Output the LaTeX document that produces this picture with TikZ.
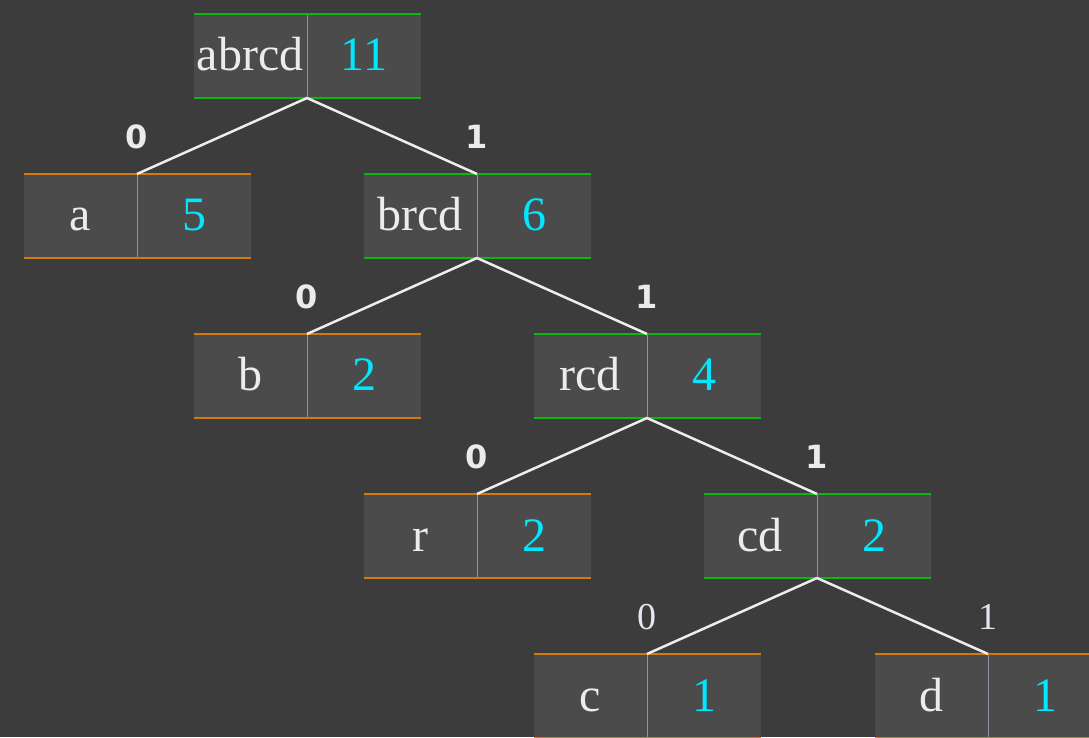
\documentclass[tikz,border=0pt]{standalone}
\usepackage{fontspec}
\setmainfont{Liberation Serif}
\newfontfamily\bitfont{DejaVu Sans}
\usetikzlibrary{calc}

\definecolor{bgcol}{HTML}{3C3C3C}
\definecolor{boxfill}{HTML}{4B4B4B}
\definecolor{innerline}{HTML}{12B412}
\definecolor{leafline}{HTML}{D27A0C}
\definecolor{divcol}{HTML}{8C93A3}
\definecolor{wordcol}{HTML}{ECECEC}
\definecolor{countcol}{HTML}{00E8FF}
\definecolor{edgecol}{HTML}{EDEDED}
\definecolor{bitcol}{HTML}{EBEBEB}
\definecolor{thinbitcol}{HTML}{E4E6F0}

\tikzset{
  cell/.style={minimum width=227pt, minimum height=84pt, inner sep=0pt,
    outer sep=0pt, fill=boxfill,
    path picture={\draw[divcol, line width=0.9pt]
      (path picture bounding box.north) -- (path picture bounding box.south);}},
  rim/.style={cell, append after command={
    (\tikzlastnode.north west) edge[draw=#1, line width=1.4pt] (\tikzlastnode.north east)
    (\tikzlastnode.south west) edge[draw=#1, line width=1.4pt] (\tikzlastnode.south east)}},
  innerbox/.style={rim=innerline},
  leafbox/.style={rim=leafline},
  word/.style={anchor=base, inner sep=0pt, text=wordcol, font=\fontsize{48}{56}\selectfont},
  count/.style={anchor=base, inner sep=0pt, text=countcol, font=\fontsize{48}{56}\selectfont},
  branch/.style={draw=edgecol, line width=2.5pt},
  bit/.style={inner sep=0pt, text=bitcol, font=\bitfont\bfseries\fontsize{32}{38}\selectfont},
  thinbit/.style={inner sep=0pt, text=thinbitcol, font=\fontsize{38}{44}\selectfont},
}

% one tree node: name, x, y, symbols, weight, box style
\newcommand\treebox[6]{%
  \node[#6] (#1) at (#2,#3) {};
  \node[word] (#1-w) at ([xshift=-57pt,yshift=-15pt]#1.center) {#4};
  \node[count] (#1-n) at ([xshift=57pt,yshift=-15pt]#1.center) {#5};
}

\begin{document}
\begin{tikzpicture}[x=1pt,y=1pt]
  \fill[bgcol] (0,0) rectangle (1089,737);
  \useasboundingbox (0,0) rectangle (1089,737);

  % tree nodes
  \treebox{abrcd}{307}{681}{abrcd}{11}{innerbox}
  \treebox{a}{137}{521}{a}{5}{leafbox}
  \treebox{brcd}{477}{521}{brcd}{6}{innerbox}
  \treebox{b}{307}{361}{b}{2}{leafbox}
  \treebox{rcd}{647}{361}{rcd}{4}{innerbox}
  \treebox{r}{477}{201}{r}{2}{leafbox}
  \treebox{cd}{817}{201}{cd}{2}{innerbox}
  \treebox{c}{647}{41}{c}{1}{leafbox}
  \treebox{d}{988}{41}{d}{1}{leafbox}

  % branches
  \draw[branch] (abrcd.south) -- (a.north);
  \draw[branch] (abrcd.south) -- (brcd.north);
  \draw[branch] (brcd.south) -- (b.north);
  \draw[branch] (brcd.south) -- (rcd.north);
  \draw[branch] (rcd.south) -- (r.north);
  \draw[branch] (rcd.south) -- (cd.north);
  \draw[branch] (cd.south) -- (c.north);
  \draw[branch] (cd.south) -- (d.north);

  % branch bits
  \node[bit] (bit-a) at ([yshift=37pt]a.north) {0};
  \node[bit] (bit-brcd) at ([yshift=37pt]brcd.north) {1};
  \node[bit] (bit-b) at ([yshift=37pt]b.north) {0};
  \node[bit] (bit-rcd) at ([yshift=37pt]rcd.north) {1};
  \node[bit] (bit-r) at ([yshift=37pt]r.north) {0};
  \node[bit] (bit-cd) at ([yshift=37pt]cd.north) {1};
  \node[thinbit] (bit-c) at ([yshift=37pt]c.north) {0};
  \node[thinbit] (bit-d) at ([yshift=37pt]d.north) {1};
\end{tikzpicture}
\end{document}
